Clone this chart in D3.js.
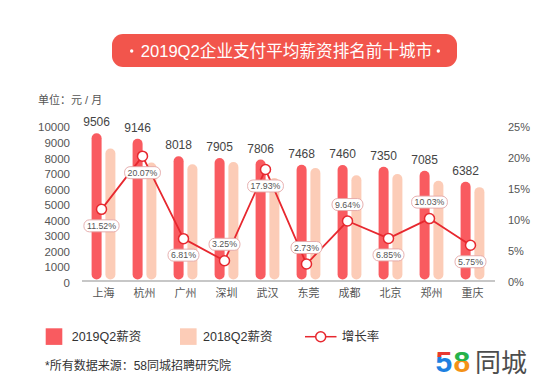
<!DOCTYPE html>
<html>
<head>
<meta charset="utf-8">
<script src="https://cdn.jsdelivr.net/npm/d3@7/dist/d3.min.js"></script>
<style>
  html, body { margin: 0; padding: 0; background: #fff; }
  svg { display: block; font-family: "Liberation Sans", "Noto Sans CJK SC", sans-serif; }
</style>
</head>
<body>
<svg id="chart" width="547" height="388"></svg>
<script>
const title = "2019Q2企业支付平均薪资排名前十城市";
const unitLabel = "单位：元 / 月";
const cities = ["上海", "杭州", "广州", "深圳", "武汉", "东莞", "成都", "北京", "郑州", "重庆"];
const salary2019 = [9506, 9146, 8018, 7905, 7806, 7468, 7460, 7350, 7085, 6382];
const salary2018 = [8524, 7617, 7507, 7656, 6619, 7270, 6804, 6879, 6439, 6035];
const growth = [11.52, 20.07, 6.81, 3.25, 17.93, 2.73, 9.64, 6.85, 10.03, 5.75];
const leftTicks = [0, 1000, 2000, 3000, 4000, 5000, 6000, 7000, 8000, 9000, 10000];
const rightTicks = [0, 5, 10, 15, 20, 25];
const seriesNames = ["2019Q2薪资", "2018Q2薪资", "增长率"];
const labelSide = ["below", "below", "below", "above", "below", "above", "above", "below", "above", "below"];
const sourceNote = "*所有数据来源：58同城招聘研究院";

const C19 = "#f95b60", C18 = "#fcccb7", CLINE = "#e7282f", CTITLE = "#f2554c";

const svg = d3.select("#chart");
svg.append("rect").attr("width", 547).attr("height", 388).attr("fill", "#fff");

// Title
svg.append("rect").attr("x", 112).attr("y", 34).attr("width", 345).attr("height", 33)
  .attr("rx", 11).attr("fill", CTITLE);
const tt = svg.append("text").attr("x", 286.5).attr("y", 57).attr("text-anchor", "middle")
  .attr("fill", "#fff").attr("font-size", 17.5).text(title);
const tw = tt.node().getComputedTextLength();
tt.attr("font-size", (17.5 * 292 / tw).toFixed(2));
[131.7, 438.3].forEach(cx => svg.append("circle").attr("cx", cx).attr("cy", 51).attr("r", 1.7).attr("fill", "#fff"));

// Unit
svg.append("text").attr("x", 38).attr("y", 104).attr("fill", "#555").attr("font-size", 11).text(unitLabel);

// Scales
const x = d3.scaleBand().domain(cities).range([83, 493]).padding(0);
const yL = d3.scaleLinear().domain([0, 10000]).range([281, 125.5]);
const yR = d3.scaleLinear().domain([0, 25]).range([281, 125.5]);
const cx = c => x(c) + x.bandwidth() / 2;

// Axes
const gL = svg.append("g").attr("transform", "translate(72,0)")
  .call(d3.axisLeft(yL).tickValues(leftTicks).tickSize(0).tickPadding(2).tickFormat(d3.format("d")));
gL.select(".domain").remove();
gL.selectAll("text").attr("fill", "#555").attr("font-size", 11.5).attr("dy", "0.47em")
  .attr("font-family", "Liberation Sans, Noto Sans CJK SC, sans-serif");

const gR = svg.append("g").attr("transform", "translate(506,0)")
  .call(d3.axisRight(yR).tickValues(rightTicks).tickSize(0).tickPadding(2).tickFormat(d => d + "%"));
gR.select(".domain").remove();
gR.selectAll("text").attr("fill", "#555").attr("font-size", 11).attr("dy", "0.42em")
  .attr("font-family", "Liberation Sans, Noto Sans CJK SC, sans-serif");

// Bars
const bw = 10;
svg.append("g").selectAll("rect").data(cities).join("rect")
  .attr("x", (c) => cx(c) - 6.9 - bw / 2)
  .attr("y", (c, i) => yL(salary2019[i]))
  .attr("width", bw)
  .attr("height", (c, i) => yL(0) - 1.5 - yL(salary2019[i]))
  .attr("rx", bw / 2).attr("fill", C19);
svg.append("g").selectAll("rect").data(cities).join("rect")
  .attr("x", (c) => cx(c) + 6.9 - bw / 2)
  .attr("y", (c, i) => yL(salary2018[i]))
  .attr("width", bw)
  .attr("height", (c, i) => yL(0) - 1.5 - yL(salary2018[i]))
  .attr("rx", bw / 2).attr("fill", C18);

// Axis baseline
svg.append("line").attr("x1", 82).attr("x2", 495).attr("y1", 281).attr("y2", 281)
  .attr("stroke", "#b5b5b5").attr("stroke-width", 1.6);

// Value labels
svg.append("g").selectAll("text").data(cities).join("text")
  .attr("x", c => cx(c) - 6.9).attr("y", (c, i) => yL(salary2019[i]) - 7)
  .attr("text-anchor", "middle").attr("fill", "#444").attr("font-size", 12)
  .text((c, i) => salary2019[i]);

// Category labels
svg.append("g").selectAll("text").data(cities).join("text")
  .attr("x", c => cx(c)).attr("y", 297)
  .attr("text-anchor", "middle").attr("fill", "#555").attr("font-size", 11)
  .text(c => c);

// Growth line
const px = c => cx(c) - 2;
const line = d3.line().x((d, i) => px(cities[i])).y(d => yR(d));
svg.append("path").datum(growth).attr("d", line).attr("fill", "none")
  .attr("stroke", CLINE).attr("stroke-width", 1.8).attr("stroke-linejoin", "round");
svg.append("g").selectAll("circle").data(growth).join("circle")
  .attr("cx", (d, i) => px(cities[i])).attr("cy", d => yR(d)).attr("r", 5)
  .attr("fill", "#fff").attr("stroke", CLINE).attr("stroke-width", 1.5);

// Growth labels
const lg = svg.append("g");
growth.forEach((g, i) => {
  const gx = px(cities[i]);
  const gy = yR(g) + (labelSide[i] === "below" ? 16.5 : -16.5);
  const grp = lg.append("g");
  const t = grp.append("text").attr("x", gx).attr("y", gy).attr("dy", "0.35em")
    .attr("text-anchor", "middle").attr("fill", "#555").attr("font-size", 8.8)
    .text(g.toFixed(2) + "%");
  const w = t.node().getComputedTextLength() + 6;
  grp.insert("rect", "text").attr("x", gx - w / 2).attr("y", gy - 6).attr("width", w).attr("height", 12)
    .attr("rx", 5.5).attr("fill", "#fff").attr("stroke", "#e3a6a6").attr("stroke-width", 0.9);
});

// Legend
svg.append("rect").attr("x", 45.7).attr("y", 328.3).attr("width", 16.6).attr("height", 16.6).attr("fill", C19);
svg.append("text").attr("x", 71.7).attr("y", 341).attr("fill", "#333").attr("font-size", 12.5).text(seriesNames[0]);
svg.append("rect").attr("x", 180).attr("y", 328.3).attr("width", 16.6).attr("height", 16.6).attr("fill", C18);
svg.append("text").attr("x", 203).attr("y", 341).attr("fill", "#333").attr("font-size", 12.5).text(seriesNames[1]);
svg.append("line").attr("x1", 305).attr("x2", 336.5).attr("y1", 336.7).attr("y2", 336.7)
  .attr("stroke", CLINE).attr("stroke-width", 1.5);
svg.append("circle").attr("cx", 320.7).attr("cy", 336.7).attr("r", 5).attr("fill", "#fff")
  .attr("stroke", CLINE).attr("stroke-width", 1.5);
svg.append("text").attr("x", 341.7).attr("y", 341).attr("fill", "#333").attr("font-size", 12.5).text(seriesNames[2]);

// Source note
svg.append("text").attr("x", 45).attr("y", 369.5).attr("fill", "#333").attr("font-size", 12).text(sourceNote);

// Logo
const defs = svg.append("defs");
const g5 = defs.append("linearGradient").attr("id", "g5").attr("x1", 0).attr("y1", 0).attr("x2", 0).attr("y2", 1);
g5.append("stop").attr("offset", "0%").attr("stop-color", "#e8392f");
g5.append("stop").attr("offset", "36%").attr("stop-color", "#e8392f");
g5.append("stop").attr("offset", "36%").attr("stop-color", "#1f7fe0");
g5.append("stop").attr("offset", "100%").attr("stop-color", "#1f7fe0");
const g8 = defs.append("linearGradient").attr("id", "g8").attr("x1", 0).attr("y1", 0).attr("x2", 0).attr("y2", 1);
g8.append("stop").attr("offset", "0%").attr("stop-color", "#27b24a");
g8.append("stop").attr("offset", "48%").attr("stop-color", "#27b24a");
g8.append("stop").attr("offset", "48%").attr("stop-color", "#f39218");
g8.append("stop").attr("offset", "100%").attr("stop-color", "#f39218");
svg.append("text").attr("x", 435.5).attr("y", 372).attr("font-size", 30).attr("font-weight", "bold")
  .attr("font-family", "Liberation Sans, sans-serif").attr("fill", "url(#g5)").text("5");
svg.append("text").attr("x", 453.5).attr("y", 372).attr("font-size", 30).attr("font-weight", "bold")
  .attr("font-family", "Liberation Sans, sans-serif").attr("fill", "url(#g8)").text("8");
svg.append("text").attr("x", 475).attr("y", 372).attr("font-size", 26).attr("fill", "#4d4d4d")
  .attr("font-family", "Noto Sans CJK SC, sans-serif").text("同城");
</script>
</body>
</html>
